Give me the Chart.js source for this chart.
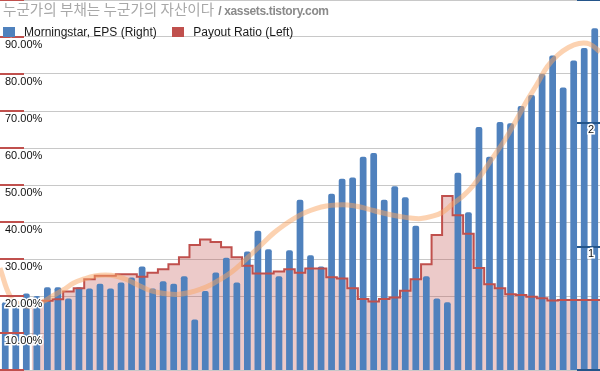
<!DOCTYPE html>
<html><head><meta charset="utf-8">
<script src="https://cdn.jsdelivr.net/npm/chart.js@4/dist/chart.umd.min.js"></script>
<style>
html,body{margin:0;padding:0;background:#fff;overflow:hidden}
#wrap{position:relative;width:600px;height:371px}
#c{position:absolute;left:0;top:0;width:600px;height:371px}
#title{position:absolute;left:3px;top:-2px;white-space:nowrap;line-height:18px}
#title .ko{font:14.6px "Noto Sans CJK KR";color:#a8a8a8}
#title .en{font:12px "Liberation Sans";color:#8a8a8a;font-weight:bold;letter-spacing:-0.35px}
#legend{position:absolute;left:3px;top:25px;display:flex;font:12px "Liberation Sans";color:#1a1a1a;line-height:14px;white-space:nowrap}
.item{display:flex;align-items:center;margin-right:15.5px}
.box{width:12px;height:10px;margin-right:9px}
</style></head><body>
<div id="wrap">
<canvas id="c" width="600" height="371"></canvas>
<div id="title"><span class="ko">누군가의 부채는 누군가의 자산이다</span> <span class="en">/ xassets.tistory.com</span></div>
<div id="legend"></div>
</div>
<script>
const categories = ['1','2','3','4','5','6','7','8','9','10','11','12','13','14','15','16','17','18','19','20','21','22','23','24','25','26','27','28','29','30','31','32','33','34','35','36','37','38','39','40','41','42','43','44','45','46','47','48','49','50','51','52','53','54','55','56','57'];
const seriesNames = ['Morningstar, EPS (Right)', 'Payout Ratio (Left)'];
const epsValues = [0.55,0.51,0.62,0.60,0.67,0.67,0.58,0.67,0.66,0.70,0.66,0.71,0.75,0.84,0.66,0.72,0.70,0.76,0.41,0.64,0.79,0.91,0.71,0.96,1.13,0.98,0.76,0.97,1.38,0.93,0.84,1.43,1.55,1.56,1.73,1.76,1.38,1.49,1.40,1.17,0.76,0.58,0.55,1.60,1.28,1.97,1.73,2.01,2.00,2.14,2.23,2.40,2.55,2.29,2.51,2.61,2.77];
const payoutRatio = [null,null,null,18.7,18.7,19.1,21.2,22.1,24.5,25.5,25.5,25.9,25.9,25.2,26.3,27.2,28.6,30.5,33.8,35.3,34.6,33.2,30.5,28.2,26.1,26.1,26.6,27.2,26.3,27.4,27.4,25.1,24.7,22.1,19.2,18.5,19.2,19.6,21.4,24.5,28.6,36.5,47.0,41.8,36.8,27.6,23.2,22.1,20.5,20.3,19.8,19.4,18.8,18.9,18.9,18.9,18.9];
// EPS trendline read at each category boundary (0..57)
const epsTrend = [0.827,0.592,0.527,0.519,0.551,0.600,0.649,0.705,0.738,0.762,0.770,0.762,0.734,0.693,0.653,0.628,0.616,0.614,0.628,0.653,0.689,0.738,0.795,0.868,0.949,1.030,1.111,1.176,1.232,1.277,1.309,1.330,1.338,1.338,1.326,1.305,1.281,1.261,1.245,1.232,1.228,1.245,1.277,1.346,1.411,1.500,1.618,1.745,1.871,2.019,2.175,2.315,2.461,2.554,2.615,2.647,2.643,2.581];
const leftTickLabels = ['', '10.00%', '20.00%', '30.00%', '40.00%', '50.00%', '60.00%', '70.00%', '80.00%', '90.00%', ''];
const rightTickLabels = ['', '1', '2', ''];

const payoutPoints = [];
payoutRatio.forEach((v, i) => { if (v !== null) payoutPoints.push({x: i, y: v}); });
payoutPoints.push({x: categories.length, y: payoutRatio[payoutRatio.length - 1]});
const trendPoints = epsTrend.map((v, k) => ({x: k, y: v}));

const zeroFit = s => { s.width = 0; s.paddingTop = 0; s.paddingBottom = 0; s.paddingLeft = 0; s.paddingRight = 0; };

const tickMarks = {
  id: 'tickMarks',
  afterDatasetsDraw(chart) {
    const {ctx, chartArea: a} = chart;
    const yP = chart.scales.yP, yE = chart.scales.yE;
    ctx.save();
    ctx.lineWidth = 2;
    ctx.strokeStyle = '#c0504d';
    yP.ticks.forEach(t => {
      const y = Math.round(yP.getPixelForValue(t.value));
      ctx.beginPath(); ctx.moveTo(a.left, y); ctx.lineTo(a.left + 24, y); ctx.stroke();
    });
    ctx.strokeStyle = '#24558a';
    yE.ticks.forEach(t => {
      const y = Math.round(yE.getPixelForValue(t.value));
      ctx.beginPath(); ctx.moveTo(a.right - 23, y); ctx.lineTo(a.right, y); ctx.stroke();
    });
    ctx.restore();
  }
};

const chart = new Chart(document.getElementById('c'), {
  data: {
    labels: categories,
    datasets: [
      {type: 'bar', label: seriesNames[0], data: epsValues, backgroundColor: '#4f81bd',
       xAxisID: 'x', yAxisID: 'yE', barPercentage: 0.64, categoryPercentage: 1, grouped: false,
       borderRadius: {topLeft: 2, topRight: 2, bottomLeft: 0, bottomRight: 0}, borderSkipped: 'bottom', order: 3},
      {type: 'line', label: seriesNames[1], data: payoutPoints, xAxisID: 'xe', yAxisID: 'yP',
       stepped: true, borderColor: '#c0504d', borderWidth: 2, backgroundColor: 'rgba(192,80,77,0.3)',
       fill: 'origin', pointRadius: 0, order: 2},
      {type: 'line', label: 'trend', data: trendPoints, xAxisID: 'xe', yAxisID: 'yE',
       borderColor: 'rgba(249,165,100,0.5)', borderWidth: 5, tension: 0.4, pointRadius: 0,
       fill: false, order: 1}
    ]
  },
  options: {
    responsive: false,
    devicePixelRatio: 1,
    animation: false,
    layout: {padding: {left: 0, right: 0, top: 0, bottom: 1}},
    plugins: {
      legend: {display: false},
      title: {display: false},
      tooltip: {enabled: false},
      filler: {drawTime: 'beforeDatasetsDraw'}
    },
    scales: {
      x: {type: 'category', display: false, offset: true},
      xe: {type: 'linear', display: false, min: 0, max: categories.length, offset: false},
      yP: {type: 'linear', position: 'left', min: 0, max: 100, afterFit: zeroFit,
           border: {display: false}, grid: {color: '#c8c8c8', lineWidth: 1, drawTicks: false},
           ticks: {display: false, stepSize: 10}},
      yPL: {type: 'linear', position: 'left', min: 0, max: 100, z: 1, afterFit: zeroFit,
            border: {display: false}, grid: {display: false, drawTicks: false},
            ticks: {z: 1, stepSize: 10, mirror: true, padding: 5, labelOffset: 8,
                    font: {family: 'Liberation Sans', size: 11}, color: '#111111',
                    textStrokeColor: '#ffffff', textStrokeWidth: 3,
                    callback: (v) => leftTickLabels[Math.round(v / 10)] ?? ''}},
      yE: {type: 'linear', position: 'right', min: 0, max: 3, z: 1, afterFit: zeroFit,
           border: {display: false}, grid: {display: false, drawTicks: false},
           ticks: {z: 1, stepSize: 1, mirror: true, padding: -6, labelOffset: 7,
                   font: {family: 'Liberation Sans', size: 11}, color: '#111111',
                   textStrokeColor: '#ffffff', textStrokeWidth: 3,
                   callback: (v) => rightTickLabels[Math.round(v)] ?? ''}}
    }
  },
  plugins: [tickMarks]
});

const legendEl = document.getElementById('legend');
[0, 1].forEach(i => {
  const ds = chart.data.datasets[i];
  const item = document.createElement('div'); item.className = 'item';
  const box = document.createElement('span'); box.className = 'box';
  box.style.background = ds.type === 'bar' ? ds.backgroundColor : ds.borderColor;
  const txt = document.createElement('span'); txt.textContent = ds.label;
  item.appendChild(box); item.appendChild(txt); legendEl.appendChild(item);
});
</script>
</body></html>
